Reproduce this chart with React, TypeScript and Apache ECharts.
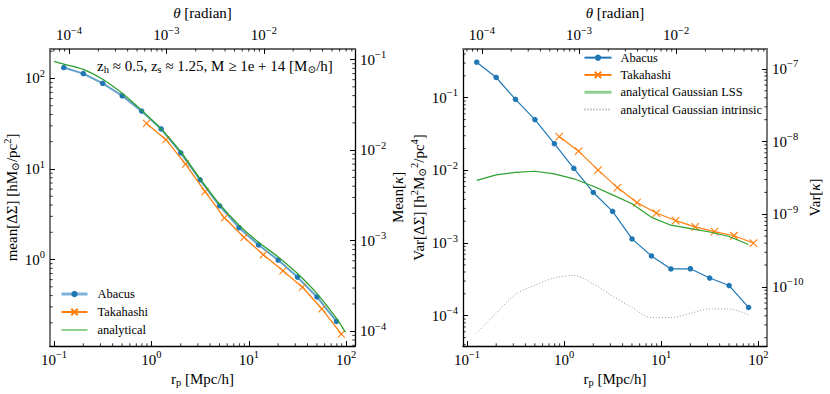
import React, { useEffect, useRef } from 'react';
import * as echarts from 'echarts';

// ---------------- data ----------------
const rAbacus = [0.126, 0.2, 0.316, 0.501, 0.794, 1.26, 2.0, 3.16, 5.01, 7.94, 12.6, 20.0, 31.6, 50.1, 79.4];
const meanAbacus = [132, 113, 88.3, 64.4, 43.6, 27.7, 15.1, 7.6, 3.92, 2.25, 1.45, 0.987, 0.64, 0.386, 0.207];
const rTakahashi = [0.891, 1.41, 2.24, 3.55, 5.62, 8.91, 14.1, 22.4, 35.5, 56.2, 89.1];
const meanTakahashi = [31.9, 21.1, 11.3, 5.61, 2.89, 1.76, 1.13, 0.75, 0.495, 0.286, 0.15];
const rAnalytical = [0.1, 0.126, 0.2, 0.316, 0.501, 0.794, 1.26, 2.0, 3.16, 5.01, 7.94, 12.6, 20.0, 31.6, 50.1, 79.4, 98];
const meanAnalytical = [154, 144, 126, 98, 68.5, 44.4, 27.6, 15.5, 7.8, 4.09, 2.4, 1.55, 1.07, 0.7, 0.42, 0.224, 0.158];

const varAbacus = [0.308, 0.19, 0.095, 0.05, 0.0233, 0.0107, 0.00497, 0.00273, 0.00114, 0.000665, 0.00044, 0.000443, 0.00033, 0.00026, 0.00013];
const varTakahashi = [0.0292, 0.0184, 0.0101, 0.0058, 0.00361, 0.00259, 0.00204, 0.00167, 0.00144, 0.00126, 0.001];
const varLSS = [0.00728, 0.00867, 0.00938, 0.00973, 0.00895, 0.00766, 0.00604, 0.0046, 0.00348, 0.00226, 0.00176, 0.00158, 0.00142, 0.00123, 0.000955];
const varIntrinsic = [5.82e-5, 1.08e-4, 1.97e-4, 2.63e-4, 3.31e-4, 3.58e-4, 2.74e-4, 1.86e-4, 1.3e-4, 9.4e-5, 9.4e-5, 1.08e-4, 1.24e-4, 1.24e-4, 1.03e-4];

// axis extents
const X_MIN = 0.091;
const X_MAX = 123;
const MEAN_MIN = 0.111;
const MEAN_MAX = 212;
const VAR_MIN = 3.83e-5;
const VAR_MAX = 0.47;
// conversions for the secondary axes
const D_THETA = 1426; // r_p / theta
const KAPPA_FACTOR = 6.19e-4; // Mean[kappa] / mean[DeltaSigma]
const KAPPA_VAR_FACTOR = 4.013e-7; // Var[kappa] / Var[DeltaSigma]

const FONT = "'Liberation Serif', 'DejaVu Serif', 'Times New Roman', serif";
const BLUE = '#1f77b4';
const ORANGE = '#ff7f0e';
const GREEN = '#2ca02c';
const X_SYMBOL = 'path://M0,0L10,10M10,0L0,10';

const zip = (xs: number[], ys: number[]) => xs.map((x, i) => [x, ys[i]]);

function minorTicks(min: number, max: number) {
  const out: number[] = [];
  const e0 = Math.floor(Math.log10(min));
  const e1 = Math.ceil(Math.log10(max));
  for (let e = e0; e <= e1; e++) {
    for (let m = 2; m <= 9; m++) {
      const v = m * Math.pow(10, e);
      if (v > min && v < max) out.push(v);
    }
  }
  return out;
}

const expLabel = (v: number) => {
  const e = Math.round(Math.log10(v));
  const s = e < 0 ? '\u2212' + -e : String(e);
  return `{b|10}{s|${s}}`;
};

const tickRich = {
  b: { fontFamily: FONT, fontSize: 15, color: '#000' },
  s: { fontFamily: FONT, fontSize: 10.5, color: '#000', padding: [0, 0, 10, 0] },
};

const nameRich = {
  t: { fontFamily: FONT, fontSize: 15, color: '#000' },
  i: { fontFamily: FONT, fontSize: 15, color: '#000', fontStyle: 'italic' },
  sub: { fontFamily: FONT, fontSize: 10.5, color: '#000', padding: [7, 0, 0, 0] },
  sup: { fontFamily: FONT, fontSize: 10.5, color: '#000', padding: [0, 0, 9, 0] },
};

function logAxis(o: any) {
  return {
    type: 'log',
    logBase: 10,
    gridIndex: o.grid,
    position: o.position,
    min: o.min,
    max: o.max,
    axisLine: { show: true, onZero: false, lineStyle: { color: o.lineColor || '#000', width: o.lineWidth || 1.3 } },
    axisTick: { show: true, inside: true, length: 5, lineStyle: { color: '#000', width: 1 } },
    minorTick: { show: false },
    splitLine: { show: false },
    axisLabel: {
      show: true,
      formatter: expLabel,
      rich: tickRich,
      margin: o.margin,
      showMinLabel: false,
      showMaxLabel: false,
    },
    name: o.name,
    nameLocation: 'middle',
    nameGap: o.nameGap,
    nameTextStyle: { rich: nameRich, fontFamily: FONT, fontSize: 15, color: '#000' },
  };
}

function tickSeries(xAxisIndex: number, yAxisIndex: number, xTicks: number[], yTicks: number[], sideX: string, sideY: string) {
  return {
    type: 'custom',
    xAxisIndex,
    yAxisIndex,
    silent: true,
    clip: false,
    z: 5,
    data: [[xTicks[0], yTicks[0]]],
    renderItem: (params: any, api: any) => {
      const cs = params.coordSys;
      const L = 2.7;
      const children: any[] = [];
      xTicks.forEach((v) => {
        const px = api.coord([v, yTicks[0]])[0];
        const y0 = sideX === 'bottom' ? cs.y + cs.height : cs.y;
        const y1 = sideX === 'bottom' ? y0 - L : y0 + L;
        children.push({ type: 'line', shape: { x1: px, y1: y0, x2: px, y2: y1 }, style: { stroke: '#000', lineWidth: 0.8 } });
      });
      yTicks.forEach((v) => {
        const py = api.coord([xTicks[0], v])[1];
        const x0 = sideY === 'left' ? cs.x : cs.x + cs.width;
        const x1 = sideY === 'left' ? x0 + L : x0 - L;
        children.push({ type: 'line', shape: { x1: x0, y1: py, x2: x1, y2: py }, style: { stroke: '#000', lineWidth: 0.8 } });
      });
      return { type: 'group', children };
    },
  };
}

export default function App() {
  const ref = useRef<HTMLDivElement>(null);
  useEffect(() => {
    if (!ref.current) return;
    const chart = echarts.init(ref.current, null, { renderer: 'svg' });

    const thetaMin = X_MIN / D_THETA;
    const thetaMax = X_MAX / D_THETA;
    const kMeanMin = MEAN_MIN * KAPPA_FACTOR;
    const kMeanMax = MEAN_MAX * KAPPA_FACTOR;
    const kVarMin = VAR_MIN * KAPPA_VAR_FACTOR;
    const kVarMax = VAR_MAX * KAPPA_VAR_FACTOR;

    const rName = '{t|r}{sub|p}{t| [Mpc/h]}';
    const thetaName = '{i|θ}{t| [radian]}';
    const noSymbol = { opacity: 0 };

    const option: any = {
      animation: false,
      grid: [
        { left: 50, top: 42, width: 305, height: 304 },
        { left: 463, top: 42, width: 304, height: 304 },
      ],
      xAxis: [
        logAxis({ grid: 0, position: 'bottom', min: X_MIN, max: X_MAX, margin: 3, name: rName, nameGap: 23 }),
        logAxis({ grid: 0, position: 'top', min: thetaMin, max: thetaMax, margin: 3, name: thetaName, nameGap: 20, lineColor: '#6a6a6a', lineWidth: 1.8 }),
        logAxis({ grid: 1, position: 'bottom', min: X_MIN, max: X_MAX, margin: 3, name: rName, nameGap: 23 }),
        logAxis({ grid: 1, position: 'top', min: thetaMin, max: thetaMax, margin: 3, name: thetaName, nameGap: 20, lineColor: '#6a6a6a', lineWidth: 1.8 }),
      ],
      yAxis: [
        logAxis({ grid: 0, position: 'left', min: MEAN_MIN, max: MEAN_MAX, margin: 5, name: '{t|mean[ΔΣ] [hM}{sub|⊙}{t|/pc}{sup|2}{t|]}', nameGap: 26, lineColor: '#6a6a6a', lineWidth: 1.8 }),
        logAxis({ grid: 0, position: 'right', min: kMeanMin, max: kMeanMax, margin: 5, name: '{t|Mean[}{i|κ}{t|]}', nameGap: 35 }),
        logAxis({ grid: 1, position: 'left', min: VAR_MIN, max: VAR_MAX, margin: 5, name: '{t|Var[ΔΣ] [h}{sup|2}{t|M}{sub|⊙}{sup|2}{t|/pc}{sup|4}{t|]}', nameGap: 31 }),
        logAxis({ grid: 1, position: 'right', min: kVarMin, max: kVarMax, margin: 5, name: '{t|Var[}{i|κ}{t|]}', nameGap: 33, lineColor: '#6a6a6a', lineWidth: 1.8 }),
      ],
      legend: [
        {
          left: 60,
          top: 285,
          orient: 'vertical',
          itemWidth: 26,
          itemHeight: 8,
          itemGap: 0,
          padding: 0,
          selectedMode: false,
          formatter: (n: string) => n.split('#')[0],
          textStyle: { fontFamily: FONT, fontSize: 12.5, color: '#000', lineHeight: 18, padding: [0, 0, 0, 5] },
          data: [
            { name: 'Abacus#L', lineStyle: { color: '#7fb2da', width: 3, opacity: 1 } },
            { name: 'Takahashi#L' },
            { name: 'analytical#L', itemStyle: noSymbol, lineStyle: { color: '#8fd08f', width: 2, opacity: 1 } },
          ],
        },
        {
          left: 583,
          top: 49,
          orient: 'vertical',
          itemWidth: 27,
          itemHeight: 8,
          itemGap: 0,
          padding: 0,
          selectedMode: false,
          formatter: (n: string) => n.split('#')[0],
          textStyle: { fontFamily: FONT, fontSize: 12.5, color: '#000', lineHeight: 17.3, padding: [0, 0, 0, 4] },
          data: [
            { name: 'Abacus#R' },
            { name: 'Takahashi#R' },
            { name: 'analytical Gaussian LSS#R', itemStyle: noSymbol, lineStyle: { color: '#8fd08f', width: 3, opacity: 1 } },
            { name: 'analytical Gaussian intrinsic#R', itemStyle: noSymbol },
          ],
        },
      ],
      graphic: [
        {
          type: 'text',
          x: 97,
          y: 66,
          style: {
            text: '{t|z}{sub|h}{t| ≈ 0.5, z}{sub|s}{t| ≈ 1.25, M ≥ 1e + 14 [M}{sub|⊙}{t|/h]}',
            rich: nameRich,
            verticalAlign: 'middle',
            align: 'left',
          },
        },
      ],
      series: [
        // left panel
        {
          name: 'Abacus#L',
          type: 'line',
          xAxisIndex: 0,
          yAxisIndex: 0,
          data: zip(rAbacus, meanAbacus),
          symbol: 'circle',
          symbolSize: 5.5,
          itemStyle: { color: BLUE },
          lineStyle: { color: BLUE, width: 2, opacity: 0.7 },
          z: 2,
        },
        {
          name: 'Takahashi#L',
          type: 'line',
          xAxisIndex: 0,
          yAxisIndex: 0,
          data: zip(rTakahashi, meanTakahashi),
          symbol: X_SYMBOL,
          symbolSize: 7,
          itemStyle: { color: ORANGE, borderColor: ORANGE, borderWidth: 1.1 },
          lineStyle: { color: ORANGE, width: 1.3 },
          z: 3,
        },
        {
          name: 'analytical#L',
          type: 'line',
          xAxisIndex: 0,
          yAxisIndex: 0,
          data: zip(rAnalytical, meanAnalytical),
          symbol: 'none',
          smooth: 0.2,
          itemStyle: { color: GREEN },
          lineStyle: { color: GREEN, width: 1.3 },
          z: 4,
        },
        // right panel
        {
          name: 'Abacus#R',
          type: 'line',
          xAxisIndex: 2,
          yAxisIndex: 2,
          data: zip(rAbacus, varAbacus),
          symbol: 'circle',
          symbolSize: 5.5,
          itemStyle: { color: BLUE },
          lineStyle: { color: BLUE, width: 1.2 },
          z: 2,
        },
        {
          name: 'Takahashi#R',
          type: 'line',
          xAxisIndex: 2,
          yAxisIndex: 2,
          data: zip(rTakahashi, varTakahashi),
          symbol: X_SYMBOL,
          symbolSize: 7.5,
          itemStyle: { color: ORANGE, borderColor: ORANGE, borderWidth: 1.1 },
          lineStyle: { color: ORANGE, width: 1.2 },
          z: 3,
        },
        {
          name: 'analytical Gaussian LSS#R',
          type: 'line',
          xAxisIndex: 2,
          yAxisIndex: 2,
          data: zip(rAbacus, varLSS),
          symbol: 'none',
          itemStyle: { color: GREEN },
          lineStyle: { color: GREEN, width: 1.2 },
          z: 4,
        },
        {
          name: 'analytical Gaussian intrinsic#R',
          type: 'line',
          xAxisIndex: 2,
          yAxisIndex: 2,
          data: zip(rAbacus, varIntrinsic),
          symbol: 'none',
          smooth: 0.3,
          itemStyle: { color: '#999' },
          lineStyle: { color: '#999', width: 1, type: [1, 2] },
          z: 4,
        },
        // minor ticks
        tickSeries(0, 0, minorTicks(X_MIN, X_MAX), minorTicks(MEAN_MIN, MEAN_MAX), 'bottom', 'left'),
        tickSeries(1, 1, minorTicks(thetaMin, thetaMax), minorTicks(kMeanMin, kMeanMax), 'top', 'right'),
        tickSeries(2, 2, minorTicks(X_MIN, X_MAX), minorTicks(VAR_MIN, VAR_MAX), 'bottom', 'left'),
        tickSeries(3, 3, minorTicks(thetaMin, thetaMax), minorTicks(kVarMin, kVarMax), 'top', 'right'),
      ],
    };

    chart.setOption(option);
    return () => chart.dispose();
  }, []);

  return <div ref={ref} style={{ position: 'absolute', left: 0, top: 0, width: 830, height: 394 }} />;
}
